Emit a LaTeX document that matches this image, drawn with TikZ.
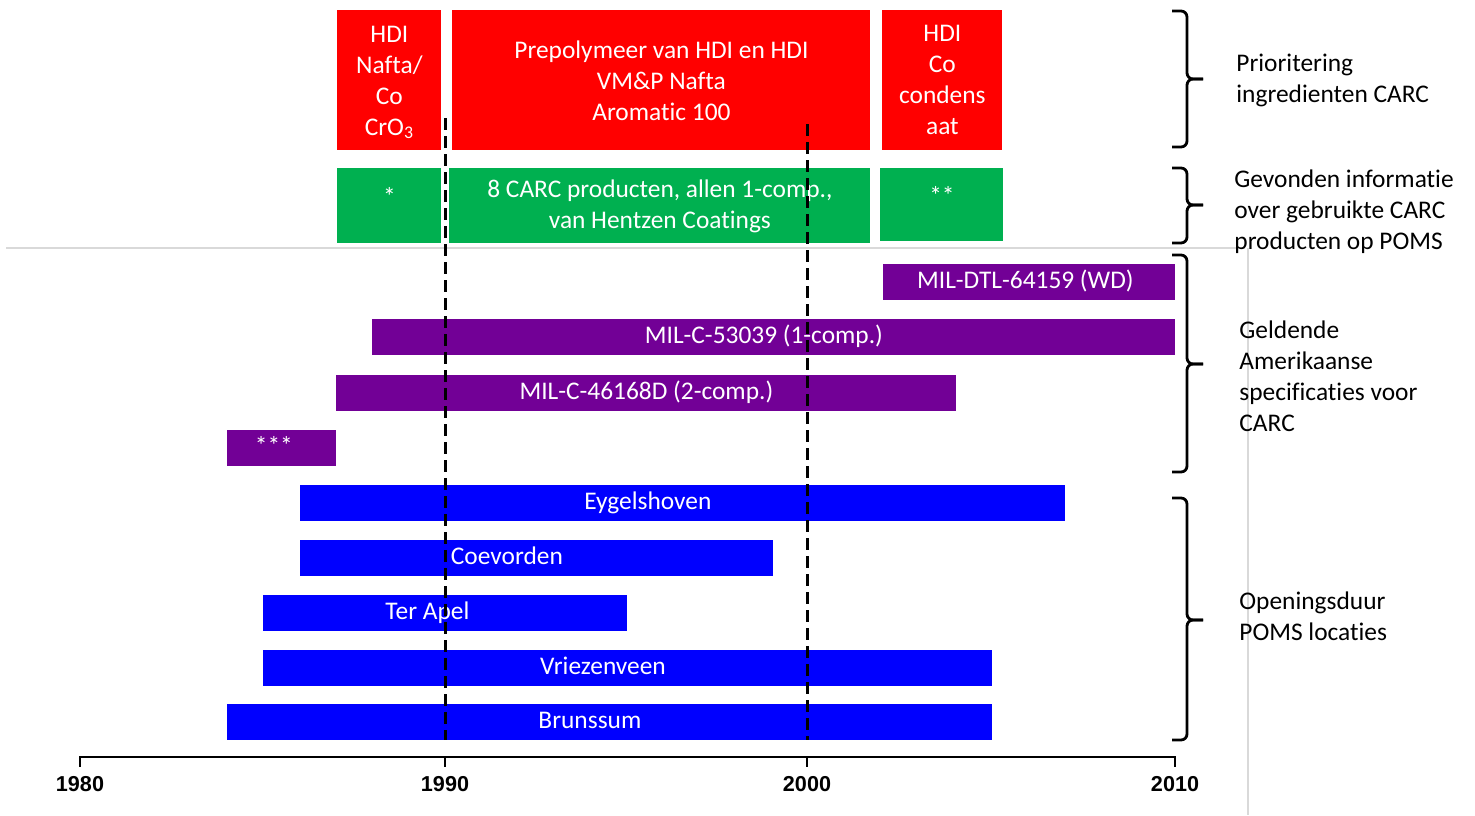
\documentclass[tikz,border=0pt]{standalone}
\usepackage{fontspec}
\setmainfont{Carlito}[Ligatures=NoCommon]
\newfontfamily\yearfont{Liberation Sans}
\usetikzlibrary{positioning}
\definecolor{carcred}{RGB}{255,0,0}
\definecolor{carcgreen}{RGB}{0,176,80}
\definecolor{carcpurple}{RGB}{114,0,150}
\definecolor{carcblue}{RGB}{0,0,255}
\definecolor{sheetgray}{RGB}{217,217,217}

\begin{document}
\begin{tikzpicture}[x=0.5pt,y=-0.5pt,font=\fontsize{12.7}{15.5}\selectfont]
  \tikzstyle{box}=[inner sep=0pt,text=white,align=center,anchor=north west]
  \tikzstyle{bar}=[box,minimum height=18pt]
  \tikzstyle{bartext}=[text=white,inner sep=0pt,text height=9pt,text depth=2.5pt]
  \tikzstyle{brace}=[line width=1.4pt,rounded corners=3pt]
  \tikzstyle{period}=[line width=1.5pt,dash pattern=on 6pt off 3pt]
  \tikzstyle{group}=[anchor=west,align=left,inner sep=0pt]
  \tikzstyle{year}=[font=\yearfont\bfseries\fontsize{10.8}{12}\selectfont,inner sep=0pt]
  \useasboundingbox (0,0) rectangle (1475,815);

  % faint sheet lines
  \draw[sheetgray,line width=0.6pt] (6,248) -- (1245,248);
  \draw[sheetgray,line width=0.6pt] (1248,248) -- (1248,815);

  % ingredients
  \node[box,fill=carcred,minimum width=52pt,minimum height=70pt,text depth=0pt] (hdinafta) at (337,10) {HDI\\Nafta/\\Co\\CrO\textsubscript{3}};
  \node[box,fill=carcred,minimum width=209pt,minimum height=70pt] (prepolymeer) at (452,10) {Prepolymeer van HDI en HDI\\VM\&P Nafta\\Aromatic 100};
  \node[box,fill=carcred,minimum width=60pt,minimum height=70pt] (condensaat) at (882,10) {HDI\\Co\\condens\\aat};

  % products
  \node[box,fill=carcgreen,minimum width=52pt,minimum height=37.5pt,label={[bartext,yshift=3.5pt]center:*}] (prodone) at (337,168) {};
  \node[box,fill=carcgreen,minimum width=210.5pt,minimum height=37.5pt] (hentzen) at (449,168) {8 CARC producten, allen 1-comp.,\\van Hentzen Coatings};
  \node[box,fill=carcgreen,minimum width=61.5pt,minimum height=36.5pt,label={[bartext,yshift=3.5pt]center:**}] (prodtwo) at (880,168) {};

  % specifications
  \node[bar,fill=carcpurple,minimum width=146pt,label={[bartext,xshift=-2pt]center:MIL-DTL-64159 (WD)}] (dtl) at (883,264) {};
  \node[bar,fill=carcpurple,minimum width=401.5pt,label={[bartext,xshift=-5pt]center:MIL-C-53039 (1-comp.)}] (onecomp) at (372,319) {};
  \node[bar,fill=carcpurple,minimum width=310pt,label={[bartext]center:MIL-C-46168D (2-comp.)}] (twocomp) at (336,375) {};
  \node[bar,fill=carcpurple,minimum width=54.5pt,label={[bartext,xshift=-4pt]center:***}] (older) at (227,430) {};

  % locations
  \node[bar,fill=carcblue,minimum width=382.5pt,label={[bartext,xshift=-17.5pt]center:Eygelshoven}] (eygelshoven) at (300,485) {};
  \node[bar,fill=carcblue,minimum width=236.5pt,label={[bartext,xshift=-15pt]center:Coevorden}] (coevorden) at (300,540) {};
  \node[bar,fill=carcblue,minimum width=182pt,label={[bartext,xshift=-9pt]center:Ter Apel}] (terapel) at (263,595) {};
  \node[bar,fill=carcblue,minimum width=364.5pt,label={[bartext,xshift=-12.5pt]center:Vriezenveen}] (vriezenveen) at (263,650) {};
  \node[bar,fill=carcblue,minimum width=382.5pt,label={[bartext,xshift=-10pt]center:Brunssum}] (brunssum) at (227,704) {};

  % 1990 and 2000
  \draw[period] (445,118) -- (445,740);
  \draw[period] (807,124) -- (807,740);

  % time axis
  \draw[line width=1.4pt] (80,757) -- (1175,757);
  \foreach \yr/\px in {1980/80,1990/445,2000/807,2010/1175} {
    \draw[line width=1.4pt] (\px,756) -- (\px,767);
    \node[year] (lbl\yr) at (\px,784) {\yr};
  }

  % braces
  \foreach \top/\mid/\bot in {11/79/147,168/205/243,255/364/472,498/620/740} {
    \draw[brace] (1172,\top) -| (1187,\mid) -- (1203,\mid);
    \draw[brace] (1172,\bot) -| (1187,\mid) -- (1203,\mid);
  }

  \node[group] (prio) at (1236,80) {Prioritering\\ingredienten CARC};
  \node[group] (gevonden) at (1234,212) {Gevonden informatie\\over gebruikte CARC\\producten op POMS};
  \node[group] (geldende) at (1239,376.5) {Geldende\\Amerikaanse\\specificaties voor\\CARC};
  \node[group] (openingsduur) at (1239,616.5) {Openingsduur\\POMS locaties};
\end{tikzpicture}
\end{document}
